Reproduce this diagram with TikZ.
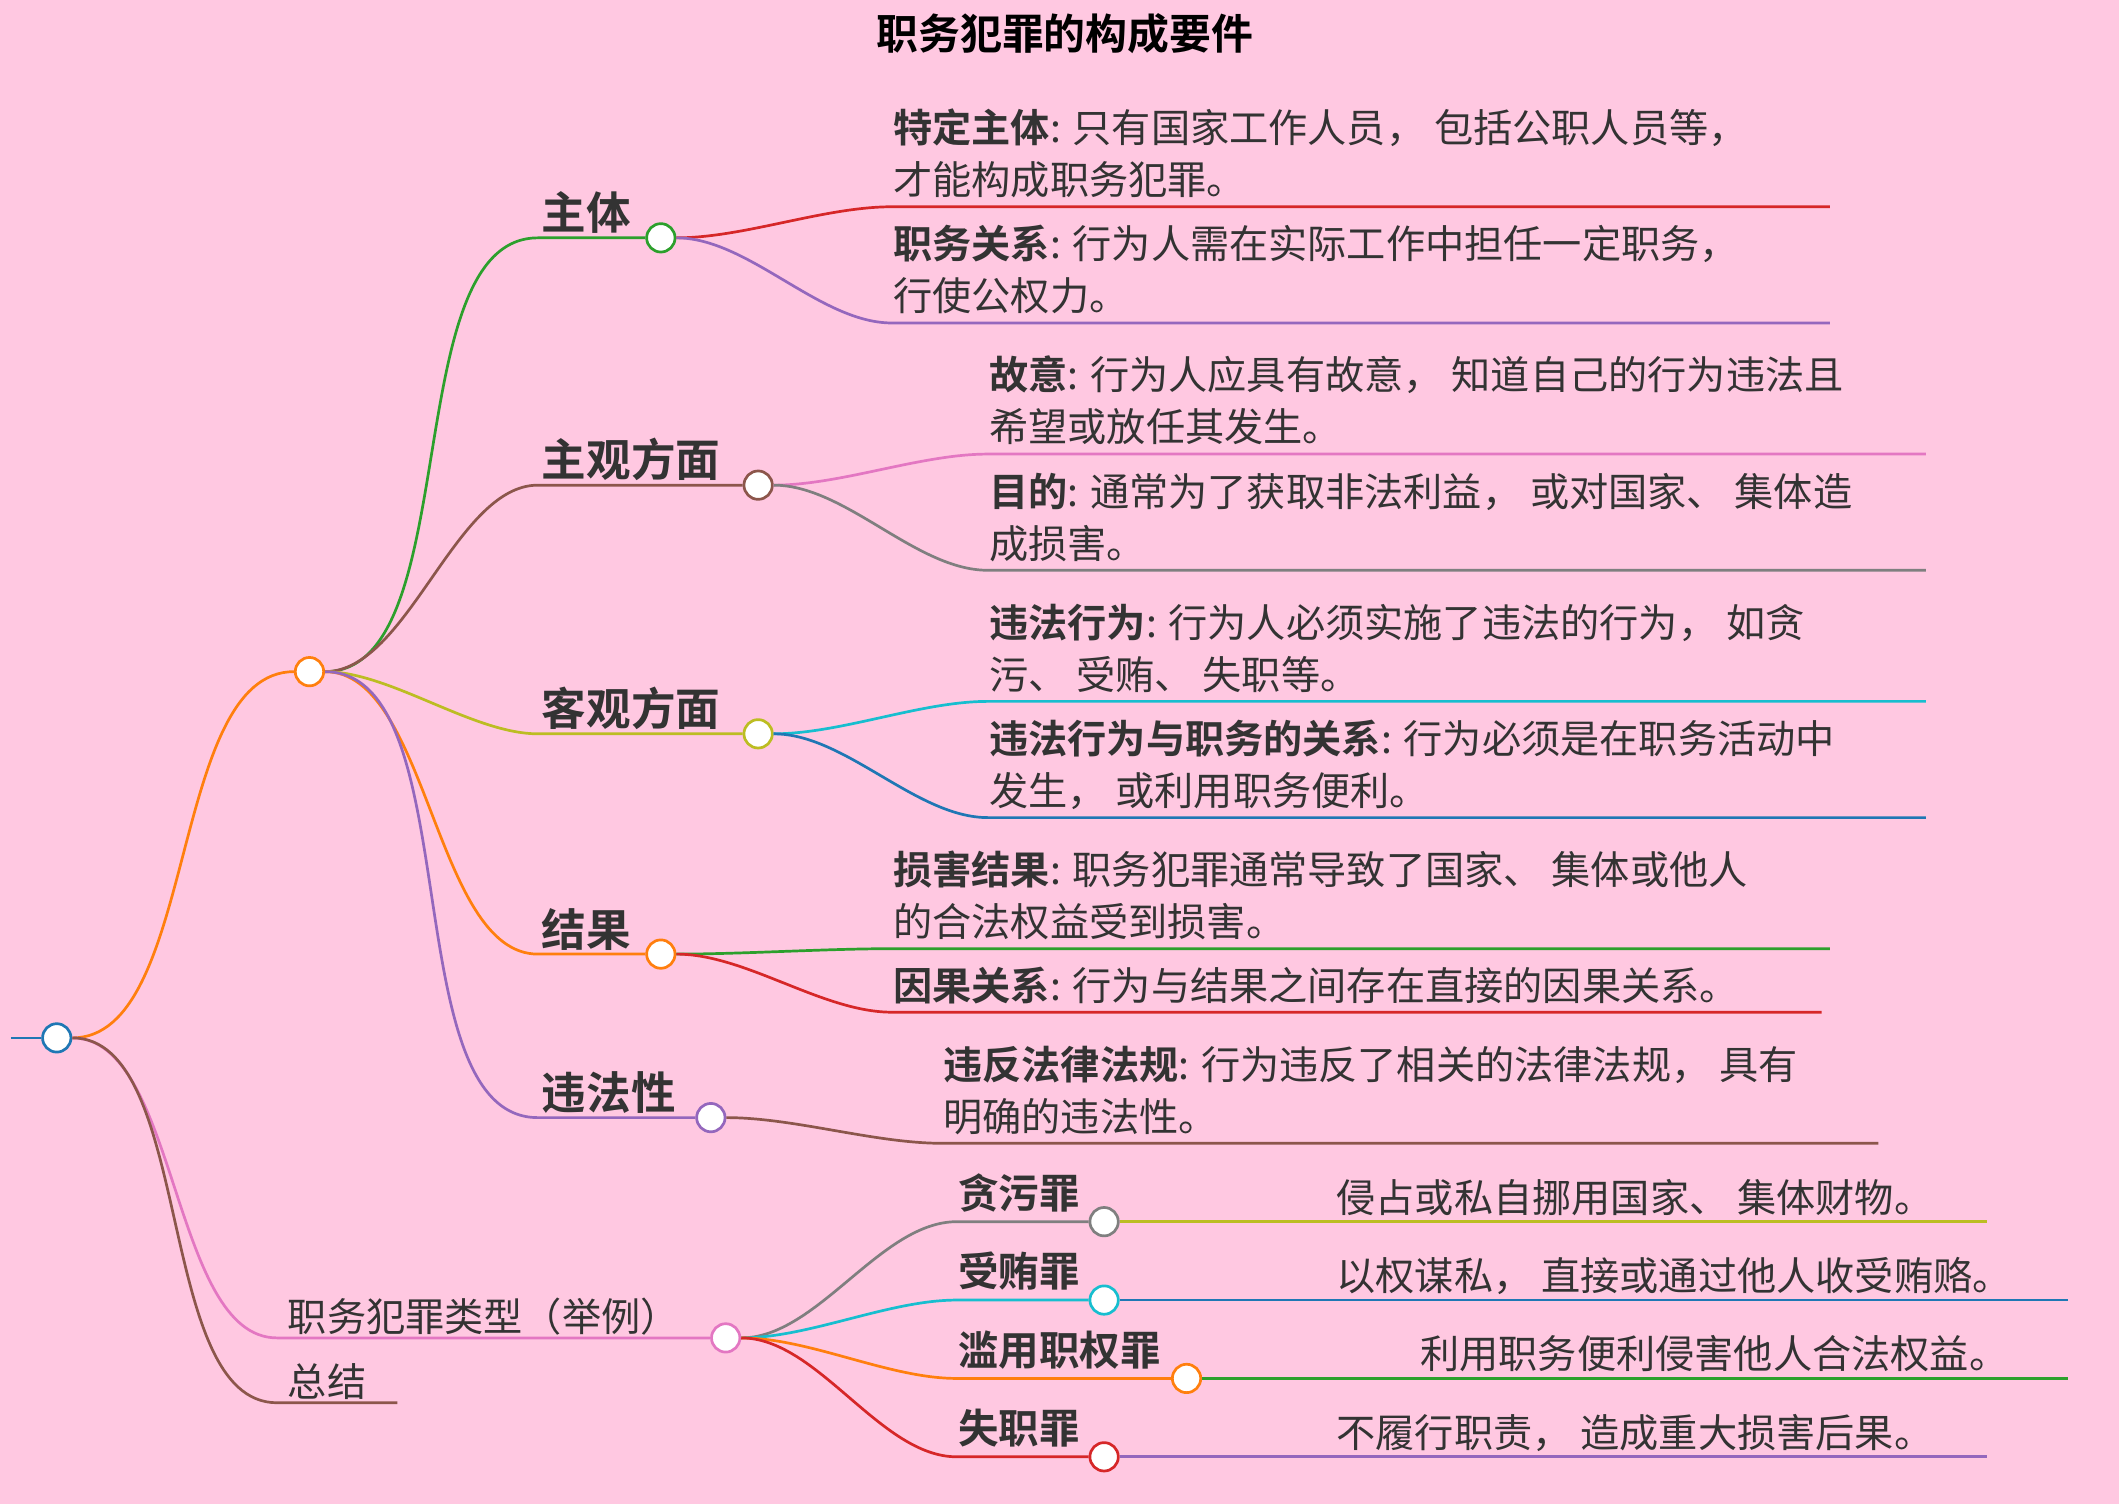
\documentclass[tikz,border=0pt]{standalone}
\usepackage{fontspec}
\setmainfont{Noto Sans CJK SC}[BoldFont={Noto Sans CJK SC Bold}]
\definecolor{bg}{HTML}{FFC8E1}
\definecolor{tx}{HTML}{333333}
\definecolor{cg}{HTML}{2CA02C}\definecolor{cbr}{HTML}{8C564B}\definecolor{col}{HTML}{BCBD22}
\definecolor{cor}{HTML}{FF7F0E}\definecolor{cpu}{HTML}{9467BD}\definecolor{cpk}{HTML}{E377C2}
\definecolor{crd}{HTML}{D62728}\definecolor{cgy}{HTML}{7F7F7F}\definecolor{ccy}{HTML}{17BECF}
\definecolor{cbl}{HTML}{1F77B4}
\begin{document}
\begin{tikzpicture}[x=1pt,y=-1pt,line width=2pt,
  dot/.style={circle,draw=#1,fill=white,line width=2pt,minimum size=21pt,inner sep=0},
  br/.style={font=\fontsize{33}{38}\selectfont\bfseries,text=tx,anchor=south west,inner sep=0},
  tb/.style={font=\fontsize{30}{36}\selectfont\bfseries,text=tx,anchor=south west,inner sep=0},
  lt/.style={font=\fontsize{29}{38.5}\selectfont,text=tx,anchor=south west,align=left,inner sep=0,text depth=0pt}]
\fill[bg] (0,0) rectangle (1568,1113);
\useasboundingbox (0,0) rectangle (1568,1113);
\node[font=\fontsize{31}{36}\selectfont\bfseries,text=black] (title) at (788,25) {职务犯罪的构成要件};
% root and hub
\node[dot=cbl] (root) at (42,768) {};
\coordinate (rs) at (8,768);
\draw[cbl] (rs) -- (root);
\node[dot=cor] (hub) at (229,497) {};
\draw[cor] (root.east) to[out=0,in=180,looseness=0.75] (hub.west);
% branches
\newcommand\branch[6]{%
  \coordinate (#1s) at (398,#3);
  \node[dot=#6] (#1) at (#5,#3) {};
  \draw[#2] (hub.east) to[out=0,in=180,looseness=0.75] (#1s) -- (#1.west);
  \node[br] at (400,#3-2) {#4};}
\branch{zt}{cg}{176}{主体}{489}{cg}
\branch{zg}{cbr}{359}{主观方面}{561}{cbr}
\branch{kg}{col}{543}{客观方面}{561}{col}
\branch{jg}{cor}{706}{结果}{489}{cor}
\branch{wf}{cpu}{827}{违法性}{526}{cpu}
% leaves
\newcommand\leaf[7]{%
  \coordinate (#7a) at (#3,#4); \coordinate (#7b) at (#5,#4);
  \draw[#2] (#1.east) to[out=0,in=180,looseness=0.8] (#7a) -- (#7b);
  \node[lt] at (#3,#4-8) {#6};}
\leaf{zt}{crd}{660}{153}{1354}{\textbf{特定主体}: 只有国家工作人员， 包括公职人员等，\\才能构成职务犯罪。}{l1}
\leaf{zt}{cpu}{660}{239}{1354}{\textbf{职务关系}: 行为人需在实际工作中担任一定职务，\\行使公权力。}{l2}
\leaf{zg}{cpk}{731}{336}{1425}{\textbf{故意}: 行为人应具有故意， 知道自己的行为违法且\\希望或放任其发生。}{l3}
\leaf{zg}{cgy}{731}{422}{1425}{\textbf{目的}: 通常为了获取非法利益， 或对国家、 集体造\\成损害。}{l4}
\leaf{kg}{ccy}{731}{519}{1425}{\textbf{违法行为}: 行为人必须实施了违法的行为， 如贪\\污、 受贿、 失职等。}{l5}
\leaf{kg}{cbl}{731}{605}{1425}{\textbf{违法行为与职务的关系}: 行为必须是在职务活动中\\发生， 或利用职务便利。}{l6}
\leaf{jg}{cg}{660}{702}{1354}{\textbf{损害结果}: 职务犯罪通常导致了国家、 集体或他人\\的合法权益受到损害。}{l7}
\leaf{jg}{crd}{660}{749}{1348}{\textbf{因果关系}: 行为与结果之间存在直接的因果关系。}{l8}
\leaf{wf}{cbr}{697}{846}{1390}{\textbf{违反法律法规}: 行为违反了相关的法律法规， 具有\\明确的违法性。}{l9}
% types
\coordinate (tys) at (205,990);
\node[dot=cpk] (ty) at (537,990) {};
\draw[cpk] (root.east) to[out=0,in=180,looseness=0.75] (tys) -- (ty.west);
\node[lt] at (212,986) {职务犯罪类型（举例）};
\coordinate (sms) at (205,1038); \coordinate (sme) at (294,1038);
\draw[cbr] (root.east) to[out=0,in=180,looseness=0.75] (sms) -- (sme);
\node[lt] at (212,1034) {总结};
\newcommand\typ[9]{%
  \coordinate (#1s) at (708,#3);
  \node[dot=#2] (#1) at (#5,#3) {};
  \draw[#2] (ty.east) to[out=0,in=180,looseness=0.8] (#1s) -- (#1.west);
  \node[tb] at (708,#3-6) {#4};
  \coordinate (#1e) at (#9,#3);
  \draw[#6] (#1.east) -- (#1e);
  \node[lt] at (#7,#3-6) {#8};}
\typ{t1}{cgy}{904}{贪污罪}{817}{col}{988}{侵占或私自挪用国家、 集体财物。}{1470}
\typ{t2}{ccy}{962}{受贿罪}{817}{cbl}{988}{以权谋私， 直接或通过他人收受贿赂。}{1530}
\typ{t3}{cor}{1020}{滥用职权罪}{878}{cg}{1050}{利用职务便利侵害他人合法权益。}{1530}
\typ{t4}{crd}{1078}{失职罪}{817}{cpu}{988}{不履行职责， 造成重大损害后果。}{1470}
\end{tikzpicture}
\end{document}
